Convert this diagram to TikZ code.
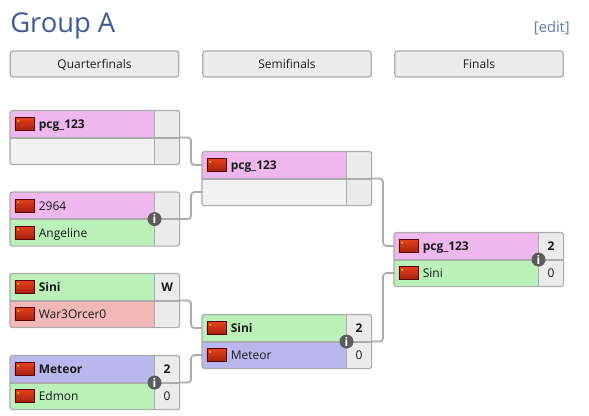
\documentclass[tikz,border=0pt]{standalone}
\usepackage{fontspec}
\setmainfont{Open Sans}
\usepackage{xcolor}
\usetikzlibrary{positioning,fit}
\definecolor{linegray}{HTML}{ABABAB}
\definecolor{cellgray}{HTML}{EBEBEB}
\definecolor{emptygray}{HTML}{F2F2F2}
\definecolor{rowpink}{HTML}{EEB8EE}
\definecolor{rowgreen}{HTML}{B9F1B9}
\definecolor{rowblue}{HTML}{B8B8EE}
\definecolor{rowred}{HTML}{F2B8B8}
\definecolor{titleblue}{HTML}{3A5A98}
\definecolor{editblue}{HTML}{5A7AB8}
\definecolor{infogray}{HTML}{5C5C5C}
\definecolor{labelink}{HTML}{1A1A1A}
\definecolor{flagred}{HTML}{E2401C}
\definecolor{flagdark}{HTML}{A82010}
\tikzset{
    header/.style={draw=linegray, line width=0.9pt, fill=cellgray, rounded corners=2pt, minimum width=126.5pt, minimum height=19.5pt, inner sep=0pt, text height=7.5pt, text depth=0.5pt, font=\fontsize{9}{11}\selectfont, text=labelink},
    namecell/.style={minimum width=108pt, minimum height=19.9pt, inner sep=0pt, anchor=north west},
    scorecell/.style={minimum width=18.4pt, minimum height=19.9pt, inner sep=0pt, fill=cellgray, text height=7pt, text depth=0.6pt, font=\fontsize{9}{11}\selectfont, text=labelink},
    flag/.style={minimum width=14.5pt, minimum height=9.5pt, inner sep=0pt, draw=black!65!red, line width=0.4pt, shade, shading angle=135, top color=flagred, bottom color=flagdark,
        path picture={\fill[yellow!90!orange] ([shift={(-4.8pt,2.4pt)}]path picture bounding box.center) circle (0.7pt);}},
    playername/.style={inner sep=0pt, text height=7.5pt, text depth=0.7pt, font=\fontsize{9}{11}\selectfont, text=labelink},
    frame/.style={draw=linegray, line width=0.9pt, rounded corners=2pt, inner sep=0pt},
    divider/.style={draw=linegray, line width=0.6pt},
    midline/.style={draw=linegray, line width=1.5pt},
    link/.style={draw=linegray, line width=1.3pt, rounded corners=2.5pt},
    info/.style={circle, fill=infogray, minimum size=10.5pt, inner sep=0pt, text=white, font=\bfseries\fontsize{9}{9}\selectfont},
}
% id, x, y, colour, name, score of the top row, then of the bottom row
\newcommand{\playerrow}[3]{%
    \if\relax\detokenize{#3}\relax\else
    \node[flag, right=3.5pt of #1.west] (#2flag) {};
    \node[playername, right=3pt of #2flag] (#2name) {#3};
    \fi}
\newcommand{\matchbox}[9]{%
    \node[namecell, fill=#4] (#1top) at (#2,#3) {};
    \node[scorecell, right=0pt of #1top] (#1topscore) {#6};
    \node[namecell, fill=#7] (#1bot) at (#1top.south west) {};
    \node[scorecell, right=0pt of #1bot] (#1botscore) {#9};
    \playerrow{#1top}{#1a}{#5}
    \playerrow{#1bot}{#1b}{#8}
    \draw[divider] (#1top.north east) -- (#1bot.south east);
    \draw[midline] (#1top.south west) -- (#1topscore.south east);
    \node[frame, fit=(#1top)(#1botscore)] (#1frame) {};}
\begin{document}
\begin{tikzpicture}[x=0.75pt,y=-0.75pt]
    \useasboundingbox (0,0) rectangle (589,416);
    \node[anchor=base west, inner sep=0pt, text=titleblue, font=\fontsize{20.5}{25}\selectfont] (title) at (10,32.5) {Group A};
    \node[anchor=base east, inner sep=0pt, text=editblue, font=\fontsize{11}{13}\selectfont] (edit) at (570,33) {[edit]};
    \node[header] (quarters) at (94.5,64) {Quarterfinals};
    \node[header] (semis) at (287,64) {Semifinals};
    \node[header] (finals) at (479,64) {Finals};
    % quarterfinals
    \matchbox{qone}{10}{110.5}{rowpink}{\textbf{pcg\_123}}{}{emptygray}{}{}
    \matchbox{qtwo}{10}{192}{rowpink}{2964}{}{rowgreen}{Angeline}{}
    \matchbox{qthree}{10}{273.5}{rowgreen}{\textbf{Sini}}{\textbf{W}}{rowred}{War3Orcer0}{}
    \matchbox{qfour}{10}{355.5}{rowblue}{\textbf{Meteor}}{\textbf{2}}{rowgreen}{Edmon}{0}
    % semifinals
    \matchbox{sone}{202}{151.5}{rowpink}{\textbf{pcg\_123}}{}{emptygray}{}{}
    \matchbox{stwo}{202}{314.5}{rowgreen}{\textbf{Sini}}{\textbf{2}}{rowblue}{Meteor}{0}
    % final
    \matchbox{fone}{394}{232.5}{rowpink}{\textbf{pcg\_123}}{\textbf{2}}{rowgreen}{Sini}{0}
    % connectors
    \draw[link] (qonetopscore.south east) -- ++(11.5,0) |- (sonetop.west);
    \draw[link] (qtwotopscore.south east) -- ++(11.5,0) |- (sonebot.west);
    \draw[link] (qthreetopscore.south east) -- ++(11.5,0) |- (stwotop.west);
    \draw[link] (qfourtopscore.south east) -- ++(11.5,0) |- (stwobot.west);
    \draw[link] (sonetopscore.south east) -- ++(11.5,0) |- (fonetop.west);
    \draw[link] (stwotopscore.south east) -- ++(11.5,0) |- (fonebot.west);
    % info buttons
    \node[info] (qtwoinfo) at (qtwotop.south east) {i};
    \node[info] (qfourinfo) at (qfourtop.south east) {i};
    \node[info] (stwoinfo) at (stwotop.south east) {i};
    \node[info] (foneinfo) at (fonetop.south east) {i};
\end{tikzpicture}
\end{document}
